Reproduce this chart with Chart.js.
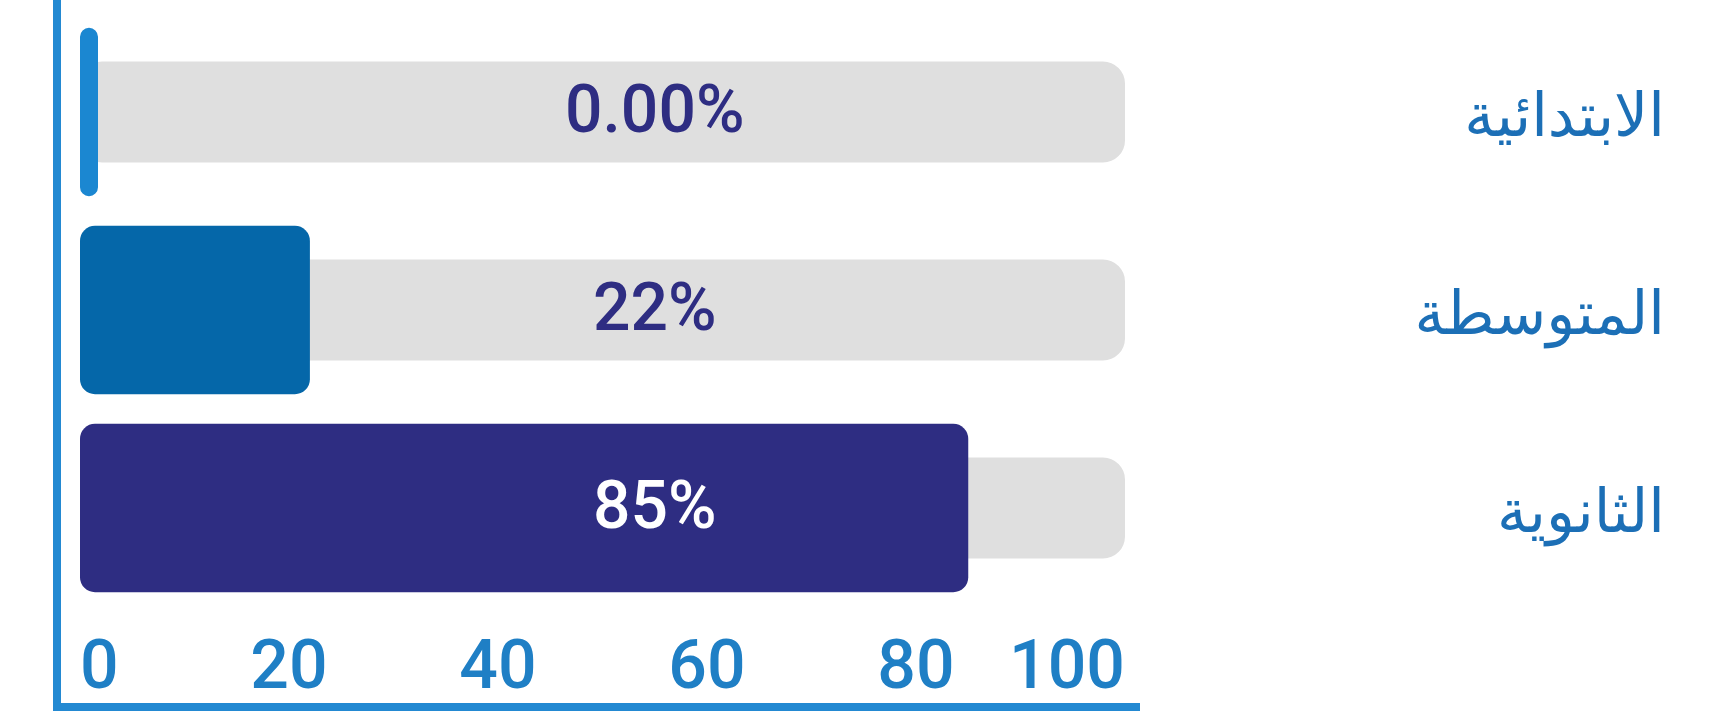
<!DOCTYPE html>
<html lang="ar">
<head>
    <meta charset="UTF-8">
    <title>نسب المراحل</title>
    <script src="https://cdn.jsdelivr.net/npm/chart.js"></script>
    <style>
        html, body { margin: 0; padding: 0; background: #ffffff; }
        .chart-container { position: relative; width: 1727px; height: 711px; }
    </style>
</head>
<body>
    <div class="chart-container">
        <canvas id="stagesChart"></canvas>
    </div>

    <script>
    // Data
    const categories = ['الابتدائية', 'المتوسطة', 'الثانوية'];
    const percentValues = [0, 22, 85];
    const valueLabels = ['0.00%', '22%', '85%'];
    const trackValues = [100, 100, 100];
    const xTickValues = [0, 20, 40, 60, 80, 100];

    const colors = {
        bars: ['#1b87d1', '#0567a9', '#2e2d82'],
        track: '#dfdfdf',
        frame: '#2389d2',
        tick: '#1f7fc5',
        category: '#1c6fb6',
        labelDark: '#2e2d82',
        labelLight: '#ffffff'
    };

    // blue L-shaped frame on the left and bottom
    const framePlugin = {
        id: 'frame',
        afterDraw(chart) {
            const {ctx, chartArea, scales: {x}} = chart;
            const lx = chartArea.left - 23;
            const by = x.bottom - 4;
            ctx.save();
            ctx.strokeStyle = colors.frame;
            ctx.lineWidth = 8;
            ctx.beginPath();
            ctx.moveTo(lx, 0);
            ctx.lineTo(lx, by);
            ctx.lineTo(chartArea.right + 15, by);
            ctx.stroke();
            ctx.restore();
        }
    };

    // percentage text inside each track
    const valueLabelPlugin = {
        id: 'valueLabels',
        afterDatasetsDraw(chart) {
            const {ctx, scales: {x}} = chart;
            const meta = chart.getDatasetMeta(0);
            ctx.save();
            ctx.font = '500 66px Roboto, "DejaVu Sans Condensed", sans-serif';
            ctx.textAlign = 'center';
            ctx.textBaseline = 'middle';
            meta.data.forEach((bar, i) => {
                const cx = x.getPixelForValue(55);
                const inside = x.getPixelForValue(percentValues[i]) > cx;
                ctx.fillStyle = inside ? colors.labelLight : colors.labelDark;
                ctx.fillText(valueLabels[i], cx, bar.y + 3);
            });
            ctx.restore();
        }
    };

    const ctx = document.getElementById('stagesChart');
    new Chart(ctx, {
        type: 'bar',
        data: {
            labels: categories,
            datasets: [
                {
                    data: percentValues,
                    backgroundColor: colors.bars,
                    borderRadius: 15,
                    borderSkipped: false,
                    minBarLength: 18,
                    grouped: false,
                    barPercentage: 0.85,
                    categoryPercentage: 1,
                    order: 0
                },
                {
                    data: trackValues,
                    backgroundColor: colors.track,
                    borderRadius: 22,
                    borderSkipped: false,
                    grouped: false,
                    barPercentage: 0.51,
                    categoryPercentage: 1,
                    order: 1
                }
            ]
        },
        options: {
            indexAxis: 'y',
            responsive: true,
            maintainAspectRatio: false,
            animation: false,
            layout: {
                padding: { left: 80, top: 13, right: 62, bottom: 0 }
            },
            plugins: {
                legend: { display: false },
                tooltip: { enabled: false }
            },
            scales: {
                x: {
                    min: 0,
                    max: 100,
                    afterBuildTicks: scale => {
                        scale.ticks = xTickValues.map(v => ({ value: v }));
                    },
                    afterFit: scale => {
                        scale.height = 104;
                        scale.paddingLeft = 0;
                        scale.paddingRight = 0;
                    },
                    grid: { display: false, drawTicks: false },
                    border: { display: false },
                    ticks: {
                        align: 'inner',
                        padding: 30,
                        color: colors.tick,
                        font: { family: 'Roboto, "DejaVu Sans Condensed", sans-serif', size: 68, weight: '500', lineHeight: 1 }
                    }
                },
                y: {
                    position: 'right',
                    grid: { display: false, drawTicks: false },
                    border: { display: false },
                    afterFit: scale => {
                        scale.width = 540;
                        scale.paddingTop = 0;
                        scale.paddingBottom = 0;
                    },
                    ticks: {
                        crossAlign: 'far',
                        padding: 10,
                        labelOffset: 8,
                        color: colors.category,
                        font: { family: '"DejaVu Sans", sans-serif', size: 60 }
                    }
                }
            }
        },
        plugins: [framePlugin, valueLabelPlugin]
    });
    </script>
</body>
</html>
